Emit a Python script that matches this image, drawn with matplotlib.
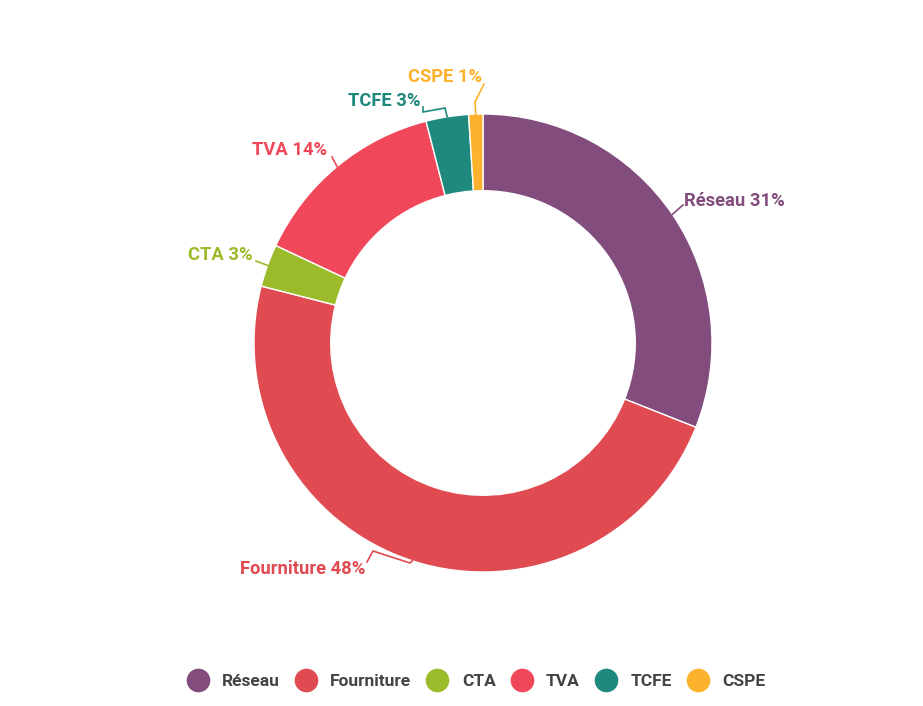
import matplotlib
matplotlib.use("Agg")
import matplotlib.pyplot as plt
from matplotlib.lines import Line2D
import numpy as np

plt.rcParams['font.family'] = ['Roboto', 'DejaVu Sans']

labels = ["Réseau", "Fourniture", "CTA", "TVA", "TCFE", "CSPE"]
values = [31, 48, 3, 14, 3, 1]
colors = ["#824C7D", "#E04A51", "#9BBB2A", "#F0475A", "#20897D", "#FDB22D"]

# label text positions (pixels) and elbow points of the leader lines
text_pos = [(684, 201), (365, 569), (253, 255), (327, 150), (421, 101), (482, 77)]
text_ha = ["left", "right", "right", "right", "right", "right"]
elbows = [
    [(683, 205)],
    [(410, 563), (373, 551), (367, 562)],
    [(256, 261)],
    [(332, 157)],
    [(445, 108), (423, 112), (423, 107)],
    [(475, 102), (484, 84)],
]

cx, cy, R = 483, 343, 229
hole = 0.665

fig = plt.figure(figsize=(9.23, 7.06), dpi=100)
ax = fig.add_axes([0, 0, 1, 1])

wedges, _ = ax.pie(values, colors=colors, startangle=-90, counterclock=True,
                   center=(cx, cy), radius=R,
                   wedgeprops=dict(width=R * (1 - hole), edgecolor="white", linewidth=1))
ax.set_xlim(0, 923)
ax.set_ylim(706, 0)
ax.axis("off")

total = sum(values)
cum = 0
for i, v in enumerate(values):
    mid = (cum + v / 2) / total * 2 * np.pi
    cum += v
    ax_x = cx + R * np.sin(mid)
    ax_y = cy - R * np.cos(mid)
    pts = [(ax_x, ax_y)] + elbows[i]
    xs, ys = zip(*pts)
    ax.plot(xs, ys, color=colors[i], lw=1.2, solid_joinstyle="miter")
    ax.text(text_pos[i][0], text_pos[i][1], f"{labels[i]} {v}%", color=colors[i],
            fontsize=13.2, fontweight="bold", ha=text_ha[i], va="center")

handles = [Line2D([], [], marker="o", linestyle="none", markersize=16,
                  markerfacecolor=c, markeredgecolor=c) for c in colors]
leg = ax.legend(handles, labels, loc="center", bbox_to_anchor=(0.515, 0.035),
                ncol=6, frameon=False, handlelength=1.4, handletextpad=0.7,
                columnspacing=0.8,
                prop=dict(family=['Roboto', 'DejaVu Sans'], weight="bold", size=12.5))
for t in leg.get_texts():
    t.set_color("#444444")

fig.savefig("out.png", dpi=100, facecolor="white")
